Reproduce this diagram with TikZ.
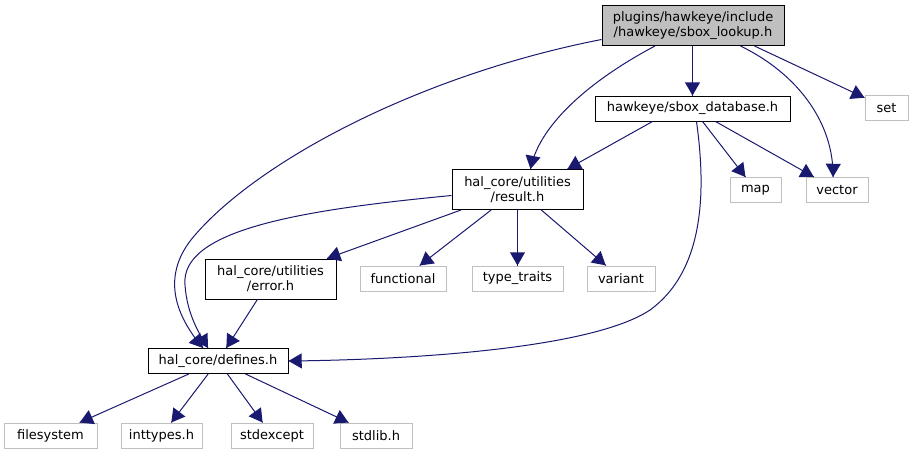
\documentclass[tikz,border=0pt]{standalone}
\usepackage{fontspec}
\setmainfont{DejaVu Sans}
\usetikzlibrary{arrows}
\usetikzlibrary{decorations.markings}
\usetikzlibrary{positioning}
\tikzset{dep/.style = {draw=mblue, line width=1pt,
                       decoration={markings,
                                   mark=at position 1 with {\arrow[scale=1.8]{triangle 60}}},
                       postaction={decorate}}}
\tikzset{file/.style = {draw=black, fill=white, line width=1pt, inner sep=0pt,
                        minimum height=25, align=center,
                        font=\fontsize{13}{15}\selectfont}}
\tikzset{sys/.style = {file, draw=mgray}}
\definecolor{mblue}{rgb}{0.1, 0.1, 0.44}
\definecolor{mgray}{rgb}{0.75, 0.75, 0.75}

\begin{document}
\begin{tikzpicture}[x=1pt, y=-1pt]
      \useasboundingbox (0, 0) rectangle (913, 455);
      % headers of the project
      \node [file, fill=mgray, minimum width=182, minimum height=40] (lookup) at (693, 25.5) {plugins/hawkeye/include\\/hawkeye/sbox\_lookup.h};
      \node [file, minimum width=195] (database) at (692.5, 108.5) {hawkeye/sbox\_database.h};
      \node [file, minimum width=131, minimum height=40] (result) at (517.5, 189.5) {hal\_core/utilities\\/result.h};
      \node [file, minimum width=131, minimum height=40] (error) at (270.5, 279) {hal\_core/utilities\\/error.h};
      \node [file, minimum width=140] (defines) at (218, 361) {hal\_core/defines.h};
      % system headers
      \node [sys, minimum width=43] (set) at (886.5, 108) {set};
      \node [sys, minimum width=51] (map) at (755.5, 190) {map};
      \node [sys, minimum width=62] (vector) at (837, 190) {vector};
      \node [sys, minimum width=86] (functional) at (403, 278.5) {functional};
      \node [sys, minimum width=91] (typetraits) at (517.5, 278.5) {type\_traits};
      \node [sys, minimum width=68] (variant) at (621, 278.5) {variant};
      \node [sys, minimum width=93] (filesystem) at (50.5, 435.5) {filesystem};
      \node [sys, minimum width=81] (inttypes) at (161.5, 435.5) {inttypes.h};
      \node [sys, minimum width=82] (stdexcept) at (272, 435.5) {stdexcept};
      \node [sys, minimum width=72] (stdlib) at (376, 435.5) {stdlib.h};

      \draw [dep] (lookup.south -| database.north) -- (database.north);
      \draw [dep] ([xshift=-30]lookup.south east) -- (set);
      \draw [dep] ([xshift=-44]lookup.south east) .. controls (800, 75) and (834, 125) .. ([xshift=-4]vector.north);
      \draw [dep] ([xshift=-38]lookup.south) .. controls (600, 75) and (540, 120) .. ([xshift=13]result.north);
      \draw [dep] ([yshift=-14]lookup.west) .. controls (420, 75) and (260, 160) .. (195, 235)
                  .. controls (160, 275) and (175, 315) .. ([xshift=-15]defines.north);
      \draw [dep] ([xshift=-40]database.south) -- ([xshift=50]result.north);
      \draw [dep] (database) -- (map);
      \draw [dep] (database) -- (vector);
      \draw [dep] ([xshift=4]database.south) .. controls (706, 190) and (705, 270) .. (650, 310)
                  .. controls (590, 350) and (400, 360) .. (defines.east);
      \draw [dep] ([yshift=-6]result.west) .. controls (300, 210) and (180, 230) .. (185, 285)
                  .. controls (187, 315) and (200, 335) .. ([xshift=-10]defines.north);
      \draw [dep] (result) -- (error);
      \draw [dep] (result) -- (functional);
      \draw [dep] (result) -- (typetraits);
      \draw [dep] (result) -- (variant);
      \draw [dep] (error) -- (defines);
      \draw [dep] (defines) -- (filesystem);
      \draw [dep] (defines) -- (inttypes);
      \draw [dep] (defines) -- (stdexcept);
      \draw [dep] (defines) -- (stdlib);
\end{tikzpicture}
\end{document}
